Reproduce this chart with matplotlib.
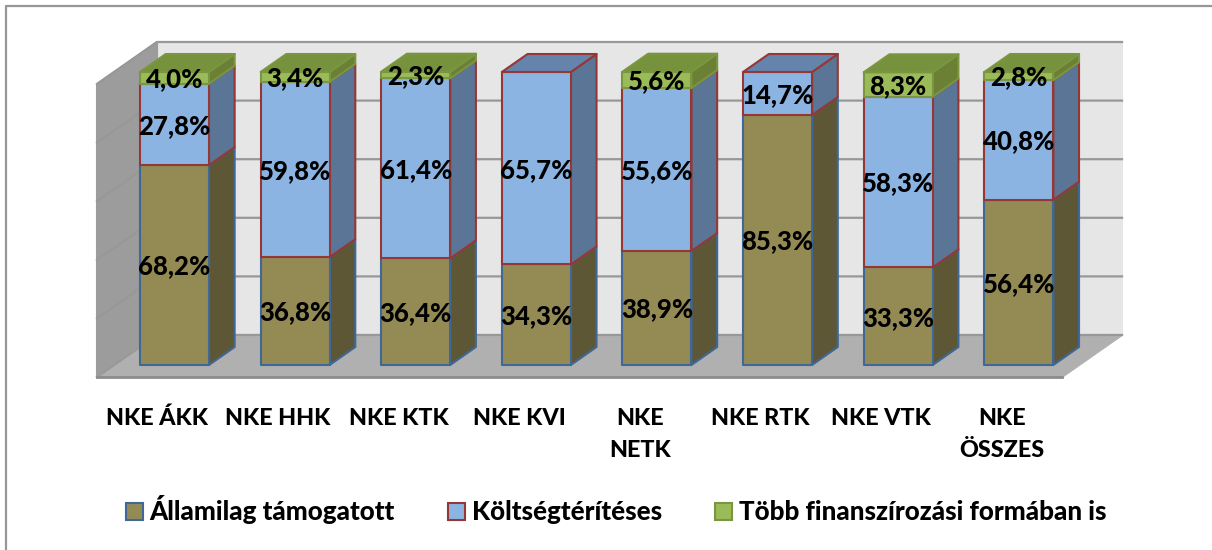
import matplotlib
matplotlib.use('agg')
from matplotlib import pyplot as plt
from matplotlib.patches import Polygon, Patch

categories = ['NKE ÁKK', 'NKE HHK', 'NKE KTK', 'NKE KVI', 'NKE\nNETK', 'NKE RTK', 'NKE VTK', 'NKE\nÖSSZES']
series_names = ['Államilag támogatott', 'Költségtérítéses', 'Több finanszírozási formában is']
allami = [68.2, 36.8, 36.4, 34.3, 38.9, 85.3, 33.3, 56.4]
koltseg = [27.8, 59.8, 61.4, 65.7, 55.6, 14.7, 58.3, 40.8]
tobb = [4.0, 3.4, 2.3, 0.0, 5.6, 0.0, 8.3, 2.8]
y_ticks = [0, 20, 40, 60, 80, 100]

W, H = 1212, 550
plt.rcParams['font.family'] = ['Lato', 'DejaVu Sans']
plt.rcParams['font.weight'] = 'bold'

fig = plt.figure(figsize=(W / 100, H / 100), dpi=100)
# chart frame shows only on the top and left of the crop
fig.add_artist(plt.Line2D([5.5 / W, 5.5 / W, 1], [0, (H - 5.5) / H, (H - 5.5) / H], transform=fig.transFigure,
                          color='#969696', linewidth=1.6))
ax = fig.add_axes([97 / W, (H - 377) / H, 965 / W, 293 / H])
ax.set_xlim(-0.5, 7.5)
ax.set_ylim(0, 100)
ax.patch.set_visible(False)
for s in ax.spines.values():
    s.set_visible(False)

# fake 3d: depth 0 is the front of the floor, depth 1 the back wall
DX = 60 / 120.6
DY = 42 / 2.93
BAR_W = 0.572
D0, D1 = 0.286, 0.714


def pt(x, y, d):
    return (x + d * DX, y + d * DY)


def poly(points, face, edge=None, lw=1.5, z=1):
    ax.add_patch(Polygon(points, closed=True, facecolor=face, edgecolor=edge if edge else face,
                         linewidth=lw, clip_on=False, zorder=z, joinstyle='round'))


xl, xr = -0.5, 7.5
poly([pt(xl, 0, 1), pt(xr, 0, 1), pt(xr, 100, 1), pt(xl, 100, 1)], '#e6e6e6', z=1)
poly([pt(xl, 0, 0), pt(xl, 0, 1), pt(xl, 100, 1), pt(xl, 100, 0)], '#9c9c9c', z=1)
poly([pt(xl, 0, 0), pt(xr, 0, 0), pt(xr, 0, 1), pt(xl, 0, 1)], '#b0b0b0', z=1)
for t in y_ticks:
    a, b, c = pt(xl, t, 0), pt(xl, t, 1), pt(xr, t, 1)
    ax.plot([a[0], b[0], c[0]], [a[1], b[1], c[1]], color='#989898', lw=1.6, clip_on=False, zorder=2)
a, b = pt(xl, 0, 0), pt(xr, 0, 0)
ax.plot([a[0], b[0]], [a[1], b[1]], color='#8c8c8c', lw=2, clip_on=False, zorder=2)

styles = [
    {'front': '#948a54', 'side': '#5e5735', 'top': '#6f6840', 'edge': '#3f6797'},
    {'front': '#8cb4e2', 'side': '#5b7596', 'top': '#6584ad', 'edge': '#953735'},
    {'front': '#9bbb59', 'side': '#6b8035', 'top': '#76923c', 'edge': '#7a9640'},
]

z = 3
for i in range(len(categories)):
    left = i - BAR_W / 2
    right = i + BAR_W / 2
    base = 0
    vals = [allami[i], koltseg[i], tobb[i]]
    top_idx = max(j for j, v in enumerate(vals) if v > 0)
    for j, v in enumerate(vals):
        if v <= 0:
            continue
        st = styles[j]
        y0, y1 = base, base + v
        poly([pt(right, y0, D0), pt(right, y0, D1), pt(right, y1, D1), pt(right, y1, D0)],
             st['side'], st['edge'], z=z)
        z += 1
        poly([pt(left, y0, D0), pt(right, y0, D0), pt(right, y1, D0), pt(left, y1, D0)],
             st['front'], st['edge'], z=z)
        z += 1
        if j == top_idx:
            poly([pt(left, y1, D0), pt(right, y1, D0), pt(right, y1, D1), pt(left, y1, D1)],
                 st['top'], st['edge'], z=z)
            z += 1
        cx, cy = pt(i, (y0 + y1) / 2, D0)
        ax.text(cx, cy - 0.5, '{:.1f}%'.format(v).replace('.', ','), ha='center', va='center',
                fontsize=18.5, fontweight='black', color='black', zorder=100, clip_on=False)
        base = y1

ax.set_xticks(range(len(categories)))
ax.set_xticklabels(categories, fontsize=16.8, fontweight='black', linespacing=1.7)
ax.tick_params(axis='x', length=0, pad=22)
ax.set_yticks([])

handles = [Patch(facecolor=st['front'], edgecolor=st['edge'], linewidth=1.5) for st in styles]
fig.legend(handles, series_names, loc='center', bbox_to_anchor=(616 / W, (H - 510) / H), ncol=3,
           frameon=False, prop={'size': 18.7, 'weight': 'black'}, handlelength=0.65, handleheight=0.65,
           handletextpad=0.27, columnspacing=2.04)

fig.savefig('out.png', dpi=100)
